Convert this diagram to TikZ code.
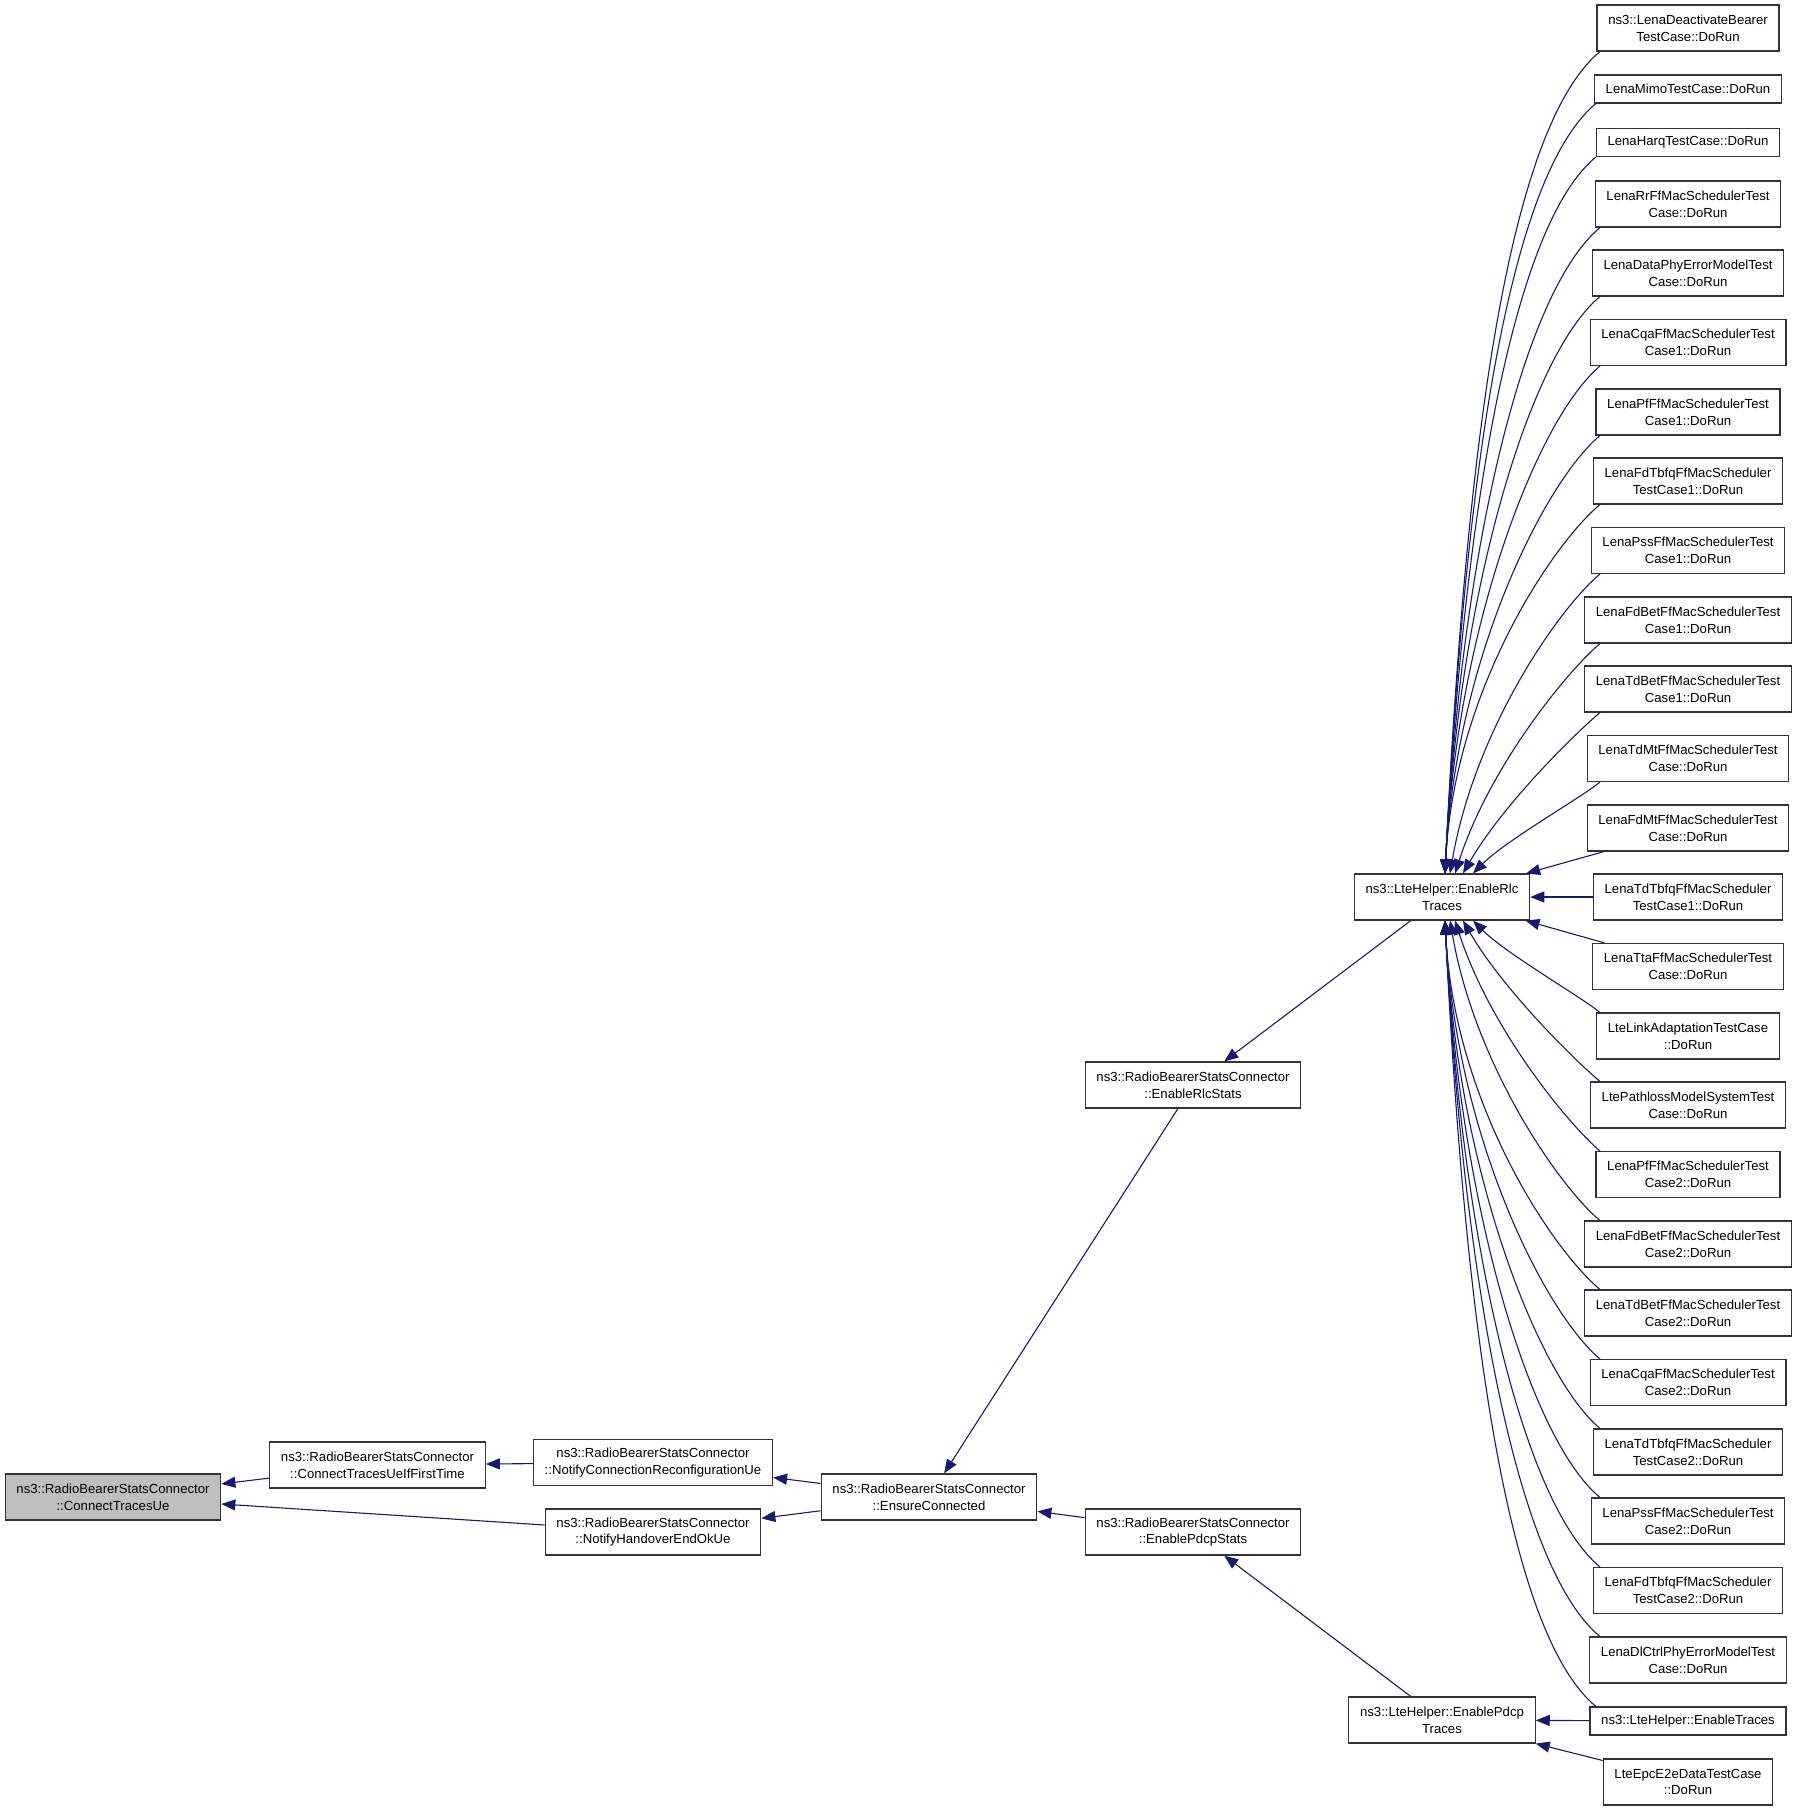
\documentclass[tikz,border=0pt]{standalone}
\usepackage{fontspec}
\setmainfont{Liberation Sans}
\usetikzlibrary{arrows.meta}
\definecolor{edgeblue}{HTML}{191970}
\definecolor{mainfill}{HTML}{BFBFBF}
\tikzset{
  fn/.style={draw=black!80, line width=0.6pt, fill=white, align=center,
    inner xsep=5.6pt, inner ysep=1pt, minimum height=23pt,
    font=\fontsize{6.58}{8.35}\selectfont},
  fnone/.style={fn, minimum height=14pt},
  fnmain/.style={fn, fill=mainfill},
  call/.style={-{Triangle[length=7pt, width=5.5pt]}, draw=edgeblue, line width=0.55pt},
}

\begin{document}
\begin{tikzpicture}[x=0.5pt, y=-0.5pt]
        \useasboundingbox (0, 0) rectangle (1797, 1811);

        % left part
        \node[fnmain] at (113, 1497)   (ctue) {ns3::RadioBearerStatsConnector\\::ConnectTracesUe};
        \node[fn] at (377.5, 1465)  (ctfirst) {ns3::RadioBearerStatsConnector\\::ConnectTracesUeIfFirstTime};
        \node[fn] at (653, 1462.5)  (reconf) {ns3::RadioBearerStatsConnector\\::NotifyConnectionReconfigurationUe};
        \node[fn] at (653, 1532)    (hoend) {ns3::RadioBearerStatsConnector\\::NotifyHandoverEndOkUe};
        \node[fn] at (929, 1497)    (ensure) {ns3::RadioBearerStatsConnector\\::EnsureConnected};
        \node[fn] at (1193, 1085)   (rlcstats) {ns3::RadioBearerStatsConnector\\::EnableRlcStats};
        \node[fn] at (1193, 1532)   (pdcpstats) {ns3::RadioBearerStatsConnector\\::EnablePdcpStats};
        \node[fn] at (1442, 897)    (rlc) {ns3::LteHelper::EnableRlc\\Traces};
        \node[fn] at (1442, 1720)   (pdcp) {ns3::LteHelper::EnablePdcp\\Traces};

        % right column
        \node[fn] at (1688, 28)     (t1) {ns3::LenaDeactivateBearer\\TestCase::DoRun};
        \node[fnone] at (1688, 89)  (t2) {LenaMimoTestCase::DoRun};
        \node[fnone] at (1688, 142.5) (t3) {LenaHarqTestCase::DoRun};
        \node[fn] at (1688, 204)    (t4) {LenaRrFfMacSchedulerTest\\Case::DoRun};
        \node[fn] at (1688, 273)    (t5) {LenaDataPhyErrorModelTest\\Case::DoRun};
        \node[fn] at (1688, 342.5)  (t6) {LenaCqaFfMacSchedulerTest\\Case1::DoRun};
        \node[fn] at (1688, 412)    (t7) {LenaPfFfMacSchedulerTest\\Case1::DoRun};
        \node[fn] at (1688, 481)    (t8) {LenaFdTbfqFfMacScheduler\\TestCase1::DoRun};
        \node[fn] at (1688, 550.5)  (t9) {LenaPssFfMacSchedulerTest\\Case1::DoRun};
        \node[fn] at (1688, 620)    (t10) {LenaFdBetFfMacSchedulerTest\\Case1::DoRun};
        \node[fn] at (1688, 689)    (t11) {LenaTdBetFfMacSchedulerTest\\Case1::DoRun};
        \node[fn] at (1688, 758.5)  (t12) {LenaTdMtFfMacSchedulerTest\\Case::DoRun};
        \node[fn] at (1688, 828)    (t13) {LenaFdMtFfMacSchedulerTest\\Case::DoRun};
        \node[fn] at (1688, 897)    (t14) {LenaTdTbfqFfMacScheduler\\TestCase1::DoRun};
        \node[fn] at (1688, 966.5)  (t15) {LenaTtaFfMacSchedulerTest\\Case::DoRun};
        \node[fn] at (1688, 1036)   (t16) {LteLinkAdaptationTestCase\\::DoRun};
        \node[fn] at (1688, 1105)   (t17) {LtePathlossModelSystemTest\\Case::DoRun};
        \node[fn] at (1688, 1174.5) (t18) {LenaPfFfMacSchedulerTest\\Case2::DoRun};
        \node[fn] at (1688, 1244)   (t19) {LenaFdBetFfMacSchedulerTest\\Case2::DoRun};
        \node[fn] at (1688, 1313)   (t20) {LenaTdBetFfMacSchedulerTest\\Case2::DoRun};
        \node[fn] at (1688, 1382.5) (t21) {LenaCqaFfMacSchedulerTest\\Case2::DoRun};
        \node[fn] at (1688, 1452)   (t22) {LenaTdTbfqFfMacScheduler\\TestCase2::DoRun};
        \node[fn] at (1688, 1521)   (t23) {LenaPssFfMacSchedulerTest\\Case2::DoRun};
        \node[fn] at (1688, 1590.5) (t24) {LenaFdTbfqFfMacScheduler\\TestCase2::DoRun};
        \node[fn] at (1688, 1660)   (t25) {LenaDlCtrlPhyErrorModelTest\\Case::DoRun};
        \node[fnone] at (1688, 1721) (lteen) {ns3::LteHelper::EnableTraces};
        \node[fn] at (1688, 1782)   (e2e) {LteEpcE2eDataTestCase\\::DoRun};

        % calls on the left
        \draw [call] (ctfirst) -- (ctue);
        \draw [call] (hoend) -- (ctue);
        \draw [call] (reconf) -- (ctfirst);
        \draw [call] (ensure) -- (reconf);
        \draw [call] (ensure) -- (hoend);
        \draw [call] (rlcstats) -- (ensure);
        \draw [call] (pdcpstats) -- (ensure);
        \draw [call] (rlc) -- (rlcstats);
        \draw [call] (pdcp) -- (pdcpstats);
        \draw [call] (lteen) -- (pdcp);
        \draw [call] (e2e) -- (pdcp);

        % calls into EnableRlcTraces from above
        \draw [call] (t1.195) .. controls +(-96, 80) and +(20, -404) .. ([xshift=1.5pt]rlc.north);
        \draw [call] (t2.189) .. controls +(-91, 76) and +(19, -378) .. ([xshift=1.5pt]rlc.north);
        \draw [call] (t3.189) .. controls +(-85, 70) and +(18, -352) .. ([xshift=1.5pt]rlc.north);
        \draw [call] (t4.195) .. controls +(-78, 65) and +(16, -318) .. ([xshift=1.5pt]rlc.north);
        \draw [call] (t5.195) .. controls +(-70, 58) and +(14, -284) .. ([xshift=1.5pt]rlc.north);
        \draw [call] (t6.195) .. controls +(-62, 52) and +(12, -249) .. ([xshift=1.5pt]rlc.north);
        \draw [call] (t7.195) .. controls +(-55, 46) and +(11, -216) .. ([xshift=1.5pt]rlc.north);
        \draw [call] (t8.195) .. controls +(-48, 40) and +(9, -182) .. ([xshift=1.5pt]rlc.north);
        \draw [call] (t9.195) .. controls +(-40, 33) and +(25, -145) .. ([xshift=4pt]rlc.north);
        \draw [call] (t10.195) .. controls +(-32, 27) and +(35, -108) .. ([xshift=6.5pt]rlc.north);
        \draw [call] (t11.195) .. controls +(-25, 21) and +(40, -69) .. ([xshift=10.5pt]rlc.north);
        \draw [call] (t12.195) .. controls +(-18, 15) and +(33, -33) .. ([xshift=15.5pt]rlc.north);
        \draw [call] (t13) -- (rlc);
        \draw [call] (t14) -- (rlc);

        % calls into EnableRlcTraces from below
        \draw [call] (t15) -- (rlc);
        \draw [call] (t16.165) .. controls +(-18, -15) and +(33, 33) .. ([xshift=15.5pt]rlc.south);
        \draw [call] (t17.165) .. controls +(-25, -21) and +(40, 69) .. ([xshift=10.5pt]rlc.south);
        \draw [call] (t18.165) .. controls +(-32, -27) and +(35, 108) .. ([xshift=6.5pt]rlc.south);
        \draw [call] (t19.165) .. controls +(-40, -33) and +(25, 145) .. ([xshift=4pt]rlc.south);
        \draw [call] (t20.165) .. controls +(-48, -40) and +(9, 182) .. ([xshift=1.5pt]rlc.south);
        \draw [call] (t21.165) .. controls +(-55, -46) and +(11, 216) .. ([xshift=1.5pt]rlc.south);
        \draw [call] (t22.165) .. controls +(-62, -52) and +(12, 249) .. ([xshift=1.5pt]rlc.south);
        \draw [call] (t23.165) .. controls +(-70, -58) and +(14, 284) .. ([xshift=1.5pt]rlc.south);
        \draw [call] (t24.165) .. controls +(-78, -65) and +(16, 318) .. ([xshift=1.5pt]rlc.south);
        \draw [call] (t25.165) .. controls +(-85, -70) and +(18, 352) .. ([xshift=1.5pt]rlc.south);
        \draw [call] (lteen.171) .. controls +(-92, -77) and +(19, 386) .. ([xshift=1.5pt]rlc.south);
    \end{tikzpicture}
\end{document}
